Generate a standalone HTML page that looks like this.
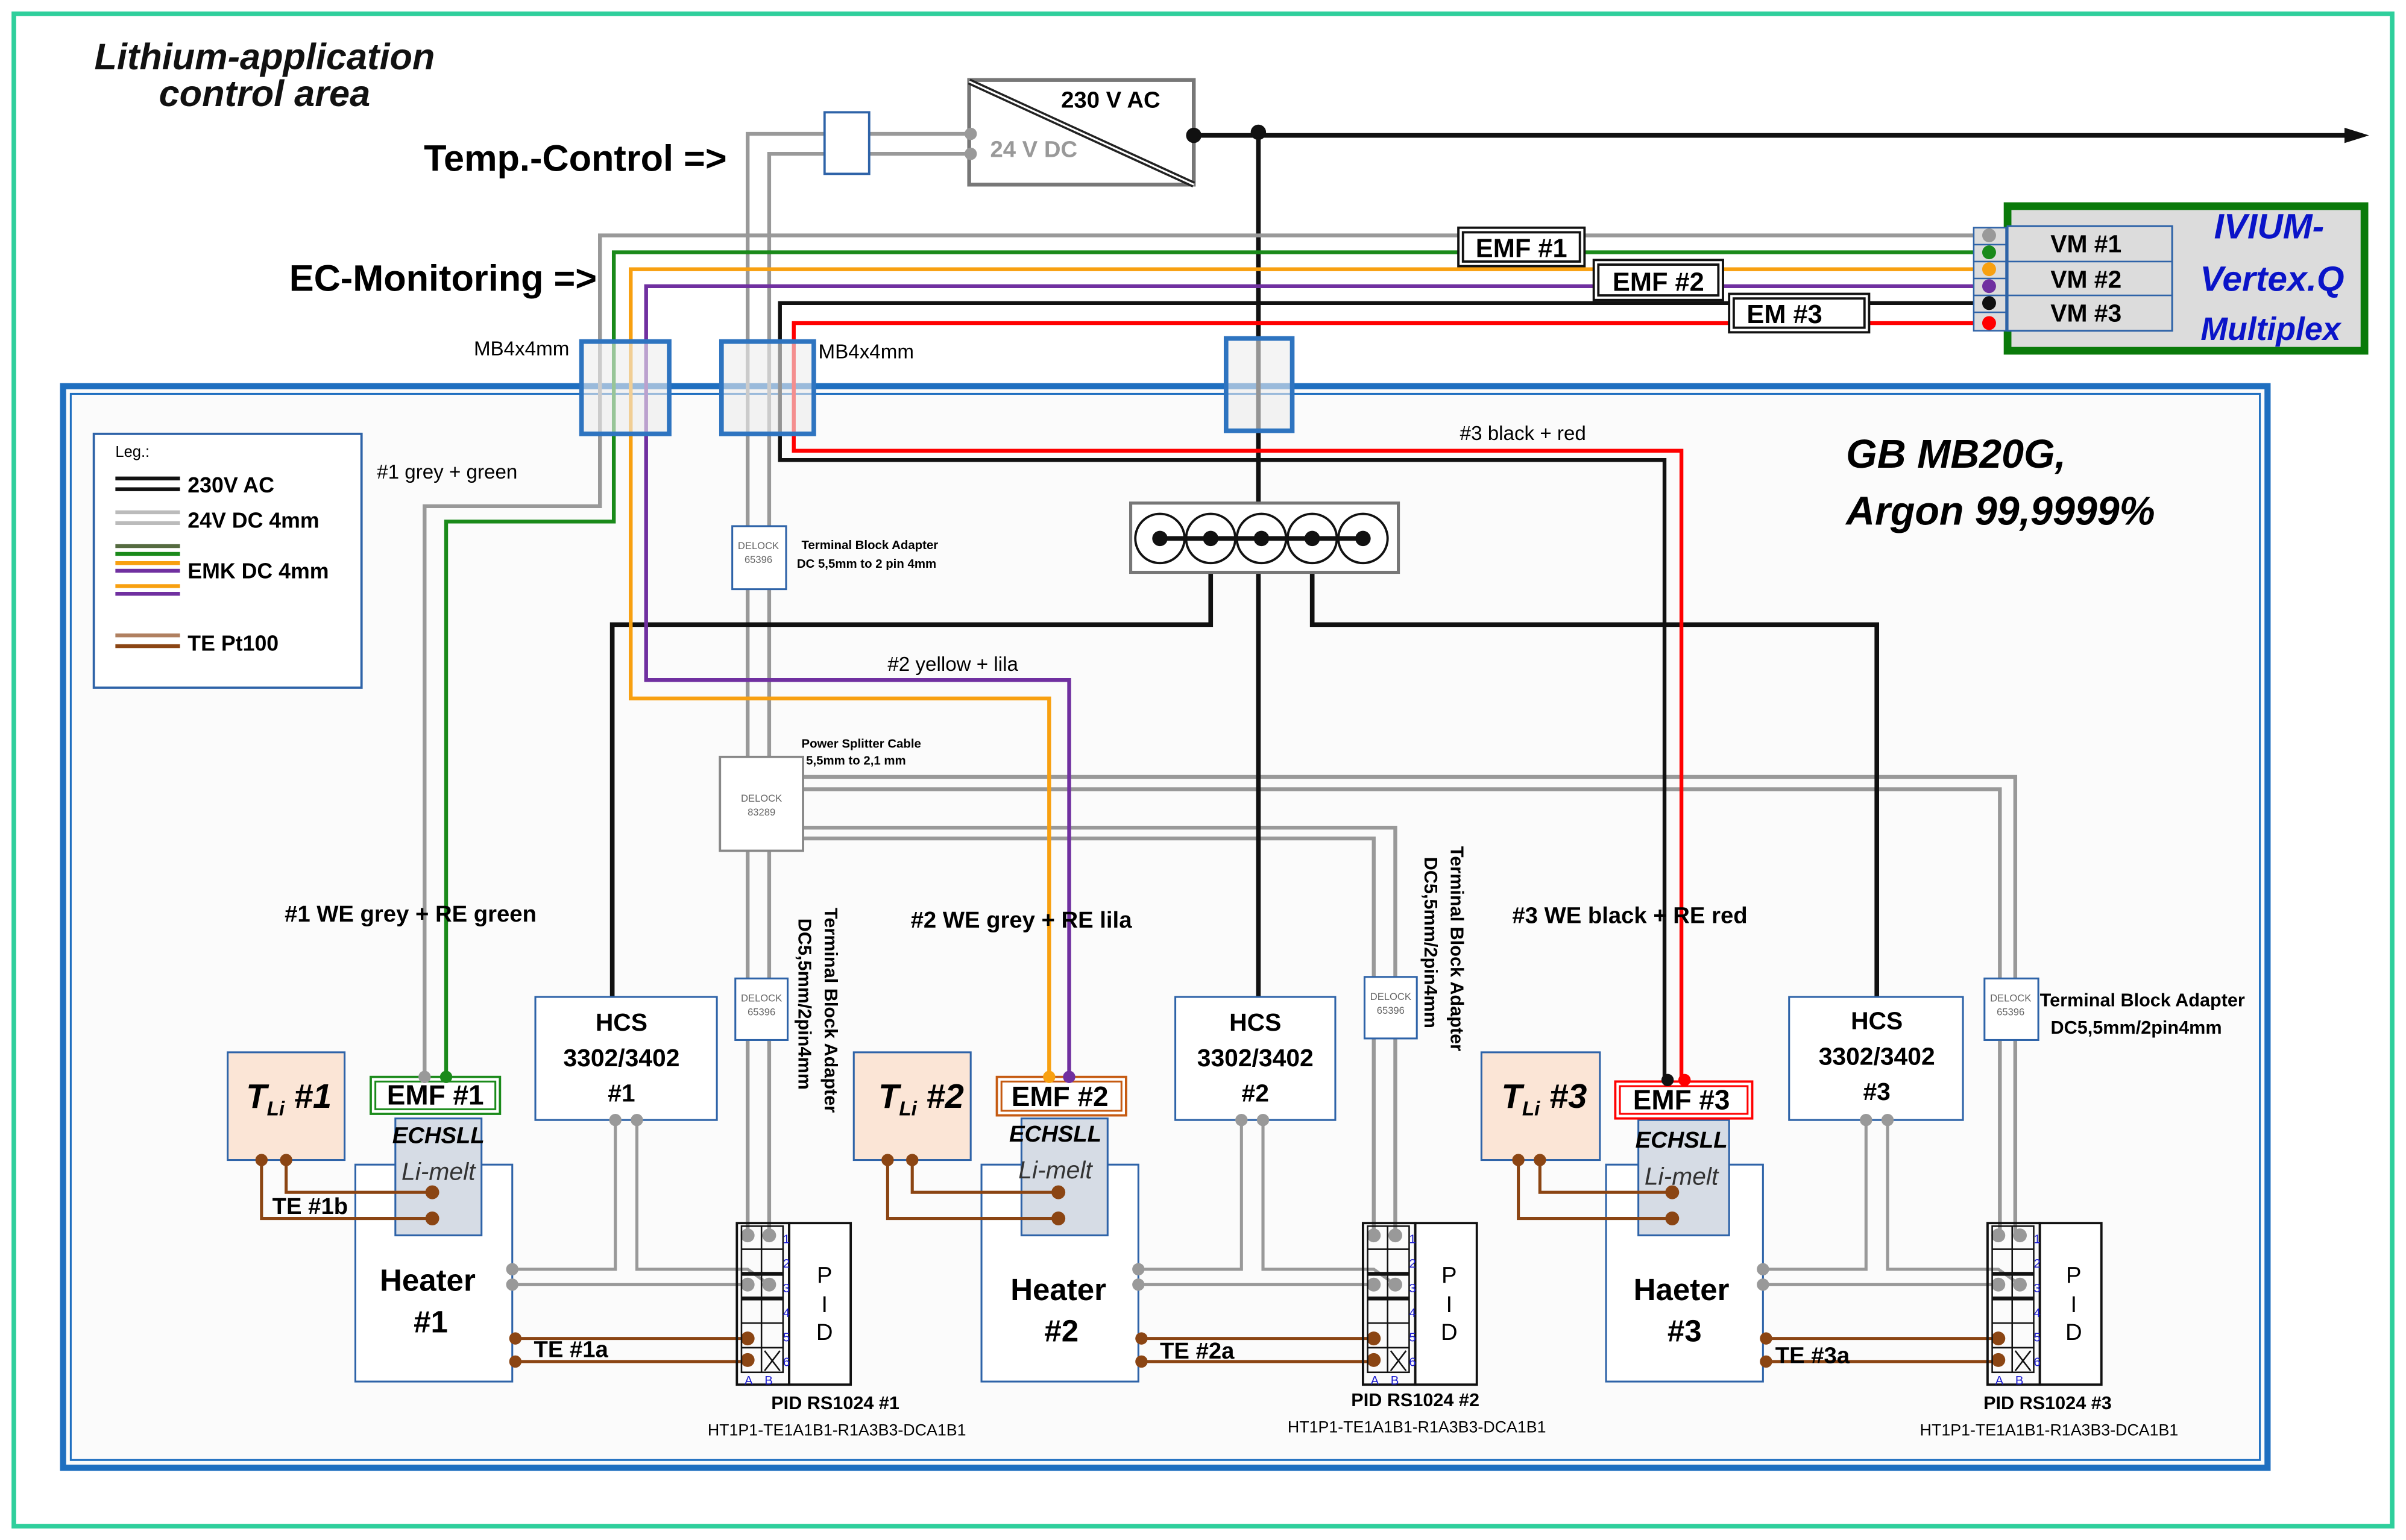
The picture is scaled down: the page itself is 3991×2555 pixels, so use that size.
<!DOCTYPE html>
<html><head><meta charset="utf-8"><style>
html,body{margin:0;padding:0;background:#fff}
svg{display:block}
text{font-family:"Liberation Sans",sans-serif}
</style></head><body>
<svg width="3991" height="2555" viewBox="0 0 1564 1001" preserveAspectRatio="none" xmlns="http://www.w3.org/2000/svg">
<rect x="0" y="0" width="1564" height="1001" fill="#fff"/>
<rect x="9" y="9" width="1546" height="983" fill="#fff" stroke="#2fcf9c" stroke-width="3"/>
<!-- glovebox -->
<rect x="41" y="251" width="1433" height="703" fill="#fbfbfb" stroke="#1f6fc0" stroke-width="4"/>
<rect x="46" y="256" width="1423" height="693" fill="none" stroke="#1f6fc0" stroke-width="1.2"/>

<!-- titles -->
<g font-weight="bold" font-style="italic" font-size="24" fill="#111" text-anchor="middle">
<text x="172" y="45">Lithium-application</text>
<text x="172" y="69">control area</text>
</g>
<text x="374" y="111" font-size="24" font-weight="bold" text-anchor="middle">Temp.-Control =&gt;</text>
<text x="288" y="189" font-size="24" font-weight="bold" text-anchor="middle">EC-Monitoring =&gt;</text>

<!-- power supply -->
<rect x="630" y="52" width="146" height="68" fill="#fff" stroke="#777" stroke-width="2.5"/>
<line x1="630" y1="53" x2="776" y2="120" stroke="#222" stroke-width="4"/>
<line x1="630" y1="53" x2="776" y2="120" stroke="#fff" stroke-width="1.2"/>
<text x="722" y="70" font-size="15" font-weight="bold" text-anchor="middle">230 V AC</text>
<text x="672" y="102" font-size="15" font-weight="bold" fill="#999" text-anchor="middle">24 V DC</text>

<!-- 24V grey wires -->
<g fill="none" stroke="#999" stroke-width="2.5">
<polyline points="631,87 486,87 486,803"/>
<polyline points="631,100 500,100 500,803"/>
<polyline points="522,505 1310,505 1310,803"/>
<polyline points="522,513 1300,513 1300,803"/>
<polyline points="522,538 907,538 907,803"/>
<polyline points="522,545 893,545 893,803"/>
</g>
<rect x="536" y="73" width="29" height="40" fill="#fff" stroke="#2e63a8" stroke-width="1.5"/>
<circle cx="631" cy="87" r="4" fill="#999"/><circle cx="631" cy="100" r="4" fill="#999"/>

<!-- 230V black -->
<g fill="none" stroke="#111" stroke-width="3">
<line x1="776" y1="88" x2="1530" y2="88"/>
<line x1="818" y1="86" x2="818" y2="648"/>
<polyline points="787,350 787,406 398,406 398,648"/>
<polyline points="853,350 853,406 1220,406 1220,648"/>
</g>
<polygon points="1540,88 1524,83 1524,93" fill="#111"/>
<circle cx="776" cy="88" r="5" fill="#111"/><circle cx="818" cy="86" r="5" fill="#111"/>

<!-- EC wires -->
<g fill="none" stroke-width="2.5">
<polyline stroke="#999" points="1293,153 390,153 390,329 276,329 276,700"/>
<polyline stroke="#1a8a1a" points="1293,164 399,164 399,339 290,339 290,700"/>
<polyline stroke="#f8a010" points="1293,175 410,175 410,454 682,454 682,700"/>
<polyline stroke="#7030a0" points="1293,186 420,186 420,442 695,442 695,700"/>
<polyline stroke="#111" points="1293,197 507,197 507,299 1082,299 1082,700"/>
<polyline stroke="#f00" points="1293,210 516,210 516,293 1093,293 1093,700"/>
</g>

<!-- feedthroughs -->
<g fill="#ececec" fill-opacity="0.6" stroke="#2e74c0" stroke-width="3">
<rect x="378" y="222" width="57" height="60"/>
<rect x="469" y="222" width="60" height="60"/>
<rect x="797" y="220" width="43" height="60"/>
</g>
<text x="308" y="231" font-size="13">MB4x4mm</text>
<text x="532" y="233" font-size="13">MB4x4mm</text>

<!-- EMF labels -->
<g font-size="17" font-weight="bold">
<rect x="948" y="148" width="82" height="25" fill="#fff" stroke="#111" stroke-width="1.5"/><rect x="951" y="151" width="76" height="19" fill="none" stroke="#111" stroke-width="1.5"/>
<text x="989" y="167" text-anchor="middle">EMF #1</text>
<rect x="1036" y="169" width="84" height="26" fill="#fff" stroke="#111" stroke-width="1.5"/><rect x="1039" y="172" width="78" height="20" fill="none" stroke="#111" stroke-width="1.5"/>
<text x="1078" y="189" text-anchor="middle">EMF #2</text>
<rect x="1124" y="191" width="91" height="25" fill="#fff" stroke="#111" stroke-width="1.5"/><rect x="1127" y="194" width="85" height="19" fill="none" stroke="#111" stroke-width="1.5"/>
<text x="1160" y="210" text-anchor="middle">EM #3</text>
</g>

<!-- IVIUM -->
<rect x="1305" y="134" width="232" height="94" fill="#dcdcdc" stroke="#0a7a0a" stroke-width="5"/>
<rect x="1283" y="148" width="21" height="67" fill="#dcdcdc" stroke="#2e63a8" stroke-width="1"/>
<g stroke="#2e63a8" stroke-width="1"><line x1="1283" y1="159" x2="1304" y2="159"/><line x1="1283" y1="170" x2="1304" y2="170"/><line x1="1283" y1="181" x2="1304" y2="181"/><line x1="1283" y1="192" x2="1304" y2="192"/><line x1="1283" y1="203" x2="1304" y2="203"/></g>
<rect x="1305" y="147" width="107" height="68" fill="#dcdcdc" stroke="#2e63a8" stroke-width="1.2"/>
<line x1="1305" y1="170" x2="1412" y2="170" stroke="#2e63a8"/><line x1="1305" y1="192" x2="1412" y2="192" stroke="#2e63a8"/>
<circle cx="1293" cy="153" r="4.5" fill="#999"/><circle cx="1293" cy="164" r="4.5" fill="#1a8a1a"/><circle cx="1293" cy="175" r="4.5" fill="#f8a010"/><circle cx="1293" cy="186" r="4.5" fill="#7030a0"/><circle cx="1293" cy="197" r="4.5" fill="#111"/><circle cx="1293" cy="210" r="4.5" fill="#f00"/>
<g font-size="16" font-weight="bold" text-anchor="middle"><text x="1356" y="164">VM #1</text><text x="1356" y="187">VM #2</text><text x="1356" y="209">VM #3</text></g>
<g font-size="23" font-weight="bold" font-style="italic" fill="#0a14c8" text-anchor="middle">
<text x="1475" y="155">IVIUM-</text><text x="1477" y="189">Vertex.Q</text><text x="1476" y="221" font-size="21">Multiplex</text></g>

<!-- socket strip -->
<rect x="735" y="327" width="174" height="45" fill="#fff" stroke="#777" stroke-width="2"/>
<g fill="#fff" stroke="#111" stroke-width="1.5">
<circle cx="754" cy="350" r="16"/><circle cx="787" cy="350" r="16"/><circle cx="820" cy="350" r="16"/><circle cx="853" cy="350" r="16"/><circle cx="886" cy="350" r="16"/></g>
<line x1="754" y1="350" x2="886" y2="350" stroke="#111" stroke-width="3"/>
<g fill="#111"><circle cx="754" cy="350" r="5"/><circle cx="787" cy="350" r="5"/><circle cx="820" cy="350" r="5"/><circle cx="853" cy="350" r="5"/><circle cx="886" cy="350" r="5"/></g>

<!-- legend -->
<rect x="61" y="282" width="174" height="165" fill="#fff" stroke="#2e63a8" stroke-width="1.5"/>
<text x="75" y="297" font-size="10">Leg.:</text>
<g stroke-width="2.5">
<line x1="75" y1="311" x2="117" y2="311" stroke="#111"/><line x1="75" y1="318" x2="117" y2="318" stroke="#111"/>
<line x1="75" y1="333" x2="117" y2="333" stroke="#bbb"/><line x1="75" y1="340" x2="117" y2="340" stroke="#bbb"/>
<line x1="75" y1="355" x2="117" y2="355" stroke="#556b40"/><line x1="75" y1="360" x2="117" y2="360" stroke="#1a8a1a"/>
<line x1="75" y1="366" x2="117" y2="366" stroke="#f8a010"/><line x1="75" y1="371" x2="117" y2="371" stroke="#7030a0"/>
<line x1="75" y1="381" x2="117" y2="381" stroke="#f8a010"/><line x1="75" y1="386" x2="117" y2="386" stroke="#7030a0"/>
<line x1="75" y1="413" x2="117" y2="413" stroke="#b08060"/><line x1="75" y1="420" x2="117" y2="420" stroke="#8b4513"/>
</g>
<g font-size="14" font-weight="bold"><text x="122" y="320">230V AC</text><text x="122" y="343">24V DC 4mm</text><text x="122" y="376">EMK DC 4mm</text><text x="122" y="423">TE Pt100</text></g>

<!-- misc labels -->
<g font-size="13"><text x="245" y="311">#1 grey + green</text><text x="949" y="286">#3 black + red</text><text x="577" y="436">#2 yellow + lila</text></g>
<g font-size="26" font-weight="bold" font-style="italic"><text x="1200" y="304">GB MB20G,</text><text x="1200" y="341">Argon 99,9999%</text></g>
<g font-size="15" font-weight="bold"><text x="185" y="599">#1 WE grey + RE green</text><text x="592" y="603">#2 WE grey + RE lila</text><text x="983" y="600">#3 WE black + RE red</text></g>

<!-- adapters -->
<g fill="#fff" stroke="#2e63a8" stroke-width="1.2">
<rect x="476" y="342" width="35" height="41"/>
<rect x="478" y="636" width="34" height="40"/>
<rect x="887" y="635" width="34" height="40"/>
<rect x="1290" y="636" width="35" height="40"/>
</g>
<rect x="468" y="492" width="54" height="61" fill="#fff" stroke="#888" stroke-width="1.5"/>
<g font-size="6.5" fill="#666" text-anchor="middle">
<text x="493" y="357">DELOCK</text><text x="493" y="366">65396</text>
<text x="495" y="651">DELOCK</text><text x="495" y="660">65396</text>
<text x="904" y="650">DELOCK</text><text x="904" y="659">65396</text>
<text x="1307" y="651">DELOCK</text><text x="1307" y="660">65396</text>
<text x="495" y="521">DELOCK</text><text x="495" y="530">83289</text>
</g>
<g font-size="8" font-weight="bold"><text x="521" y="357">Terminal Block Adapter</text><text x="518" y="369">DC 5,5mm to 2 pin 4mm</text>
<text x="521" y="486">Power Splitter Cable</text><text x="524" y="497">5,5mm to 2,1 mm</text></g>
<g font-size="12" font-weight="bold">
<text transform="translate(536,590) rotate(90)">Terminal Block Adapter</text>
<text transform="translate(519,597) rotate(90)">DC5,5mm/2pin4mm</text>
<text transform="translate(943,550) rotate(90)">Terminal Block Adapter</text>
<text transform="translate(926,557) rotate(90)">DC5,5mm/2pin4mm</text>
<text x="1326" y="654">Terminal Block Adapter</text>
<text x="1333" y="672">DC5,5mm/2pin4mm</text>
</g>

<!-- UNIT 1 -->
<g id="u1">
<rect x="148" y="684" width="76" height="70" fill="#fbe5d6" stroke="#2e63a8" stroke-width="1.2"/>
<rect x="231" y="757" width="102" height="141" fill="#fff" stroke="#2e63a8" stroke-width="1.2"/>
<rect x="257" y="727" width="56" height="76" fill="#d6dce5" stroke="#2e63a8" stroke-width="1.2"/>
<rect x="348" y="648" width="118" height="80" fill="#fff" stroke="#2e63a8" stroke-width="1.2"/>
<rect x="241" y="700" width="84" height="24" fill="#fff" stroke="#1a8a1a" stroke-width="1.5"/><rect x="244" y="703" width="78" height="18" fill="none" stroke="#1a8a1a" stroke-width="1.2"/>
<g fill="none" stroke-width="2"><polyline stroke="#8b4513" points="186,754 186,775 281,775"/><polyline stroke="#8b4513" points="170,754 170,792 281,792"/>
<polyline stroke="#999" points="400,728 400,825 333,825"/><polyline stroke="#999" points="414,728 414,825 486,825 500,835"/><line stroke="#999" x1="333" y1="835" x2="486" y2="835"/>
<line stroke="#8b4513" x1="335" y1="870" x2="486" y2="870"/><line stroke="#8b4513" x1="335" y1="885" x2="486" y2="885"/></g>
<g fill="#8b4513"><circle cx="170" cy="754" r="4"/><circle cx="186" cy="754" r="4"/><circle cx="281" cy="775" r="4.5"/><circle cx="281" cy="792" r="4.5"/><circle cx="335" cy="870" r="4"/><circle cx="335" cy="885" r="4"/><circle cx="486" cy="870" r="4.5"/><circle cx="486" cy="884" r="4.5"/></g>
<g fill="#999"><circle cx="400" cy="728" r="4"/><circle cx="414" cy="728" r="4"/><circle cx="333" cy="825" r="4"/><circle cx="333" cy="835" r="4"/><circle cx="486" cy="803" r="4.5"/><circle cx="500" cy="803" r="4.5"/><circle cx="486" cy="835" r="4.5"/><circle cx="500" cy="835" r="4.5"/></g>
<!-- PID -->
<rect x="479" y="795" width="34" height="105" fill="none" stroke="#111" stroke-width="1.5"/>
<rect x="513" y="795" width="40" height="105" fill="#fff" stroke="#111" stroke-width="1.5"/>
<g fill="none" stroke="#111" stroke-width="1"><rect x="482" y="797" width="27" height="95"/><line x1="495" y1="797" x2="495" y2="892"/>
<line x1="482" y1="812" x2="509" y2="812"/><line x1="482" y1="828" x2="509" y2="828" stroke-width="2.5"/><line x1="482" y1="844" x2="509" y2="844" stroke-width="2.5"/><line x1="482" y1="860" x2="509" y2="860"/><line x1="482" y1="876" x2="509" y2="876"/>
<line x1="497" y1="878" x2="507" y2="891"/><line x1="507" y1="878" x2="497" y2="891"/></g>
<g fill="#1a1ad0" font-size="8"><text x="509" y="808">1</text><text x="509" y="824">2</text><text x="509" y="840">3</text><text x="509" y="856">4</text><text x="509" y="872">5</text><text x="509" y="888">6</text><text x="484" y="900">A</text><text x="497" y="900">B</text></g>
</g>
<g transform="translate(407,0)">
<rect x="148" y="684" width="76" height="70" fill="#fbe5d6" stroke="#2e63a8" stroke-width="1.2"/>
<rect x="231" y="757" width="102" height="141" fill="#fff" stroke="#2e63a8" stroke-width="1.2"/>
<rect x="257" y="727" width="56" height="76" fill="#d6dce5" stroke="#2e63a8" stroke-width="1.2"/>
<rect x="357" y="648" width="104" height="80" fill="#fff" stroke="#2e63a8" stroke-width="1.2"/>
<rect x="241" y="700" width="84" height="25" fill="#fff" stroke="#c55a11" stroke-width="1.5"/><rect x="244" y="703" width="78" height="19" fill="none" stroke="#c55a11" stroke-width="1.2"/>
<g fill="none" stroke-width="2"><polyline stroke="#8b4513" points="186,754 186,775 281,775"/><polyline stroke="#8b4513" points="170,754 170,792 281,792"/>
<polyline stroke="#999" points="400,728 400,825 333,825"/><polyline stroke="#999" points="414,728 414,825 486,825 500,835"/><line stroke="#999" x1="333" y1="835" x2="486" y2="835"/>
<line stroke="#8b4513" x1="335" y1="870" x2="486" y2="870"/><line stroke="#8b4513" x1="335" y1="885" x2="486" y2="885"/></g>
<g fill="#8b4513"><circle cx="170" cy="754" r="4"/><circle cx="186" cy="754" r="4"/><circle cx="281" cy="775" r="4.5"/><circle cx="281" cy="792" r="4.5"/><circle cx="335" cy="870" r="4"/><circle cx="335" cy="885" r="4"/><circle cx="486" cy="870" r="4.5"/><circle cx="486" cy="884" r="4.5"/></g>
<g fill="#999"><circle cx="400" cy="728" r="4"/><circle cx="414" cy="728" r="4"/><circle cx="333" cy="825" r="4"/><circle cx="333" cy="835" r="4"/><circle cx="486" cy="803" r="4.5"/><circle cx="500" cy="803" r="4.5"/><circle cx="486" cy="835" r="4.5"/><circle cx="500" cy="835" r="4.5"/></g>
<rect x="479" y="795" width="34" height="105" fill="none" stroke="#111" stroke-width="1.5"/>
<rect x="513" y="795" width="40" height="105" fill="#fff" stroke="#111" stroke-width="1.5"/>
<g fill="none" stroke="#111" stroke-width="1"><rect x="482" y="797" width="27" height="95"/><line x1="495" y1="797" x2="495" y2="892"/>
<line x1="482" y1="812" x2="509" y2="812"/><line x1="482" y1="828" x2="509" y2="828" stroke-width="2.5"/><line x1="482" y1="844" x2="509" y2="844" stroke-width="2.5"/><line x1="482" y1="860" x2="509" y2="860"/><line x1="482" y1="876" x2="509" y2="876"/>
<line x1="497" y1="878" x2="507" y2="891"/><line x1="507" y1="878" x2="497" y2="891"/></g>
<g fill="#1a1ad0" font-size="8"><text x="509" y="808">1</text><text x="509" y="824">2</text><text x="509" y="840">3</text><text x="509" y="856">4</text><text x="509" y="872">5</text><text x="509" y="888">6</text><text x="484" y="900">A</text><text x="497" y="900">B</text></g>
</g>
<g transform="translate(813,0)">
<rect x="150" y="684" width="77" height="70" fill="#fbe5d6" stroke="#2e63a8" stroke-width="1.2"/>
<rect x="231" y="757" width="102" height="141" fill="#fff" stroke="#2e63a8" stroke-width="1.2"/>
<rect x="252" y="728" width="59" height="75" fill="#d6dce5" stroke="#2e63a8" stroke-width="1.2"/>
<rect x="350" y="648" width="113" height="80" fill="#fff" stroke="#2e63a8" stroke-width="1.2"/>
<rect x="237" y="703" width="89" height="24" fill="#fff" stroke="#f00" stroke-width="1.5"/><rect x="240" y="706" width="83" height="18" fill="none" stroke="#f00" stroke-width="1.2"/>
<g fill="none" stroke-width="2"><polyline stroke="#8b4513" points="188,754 188,775 274,775"/><polyline stroke="#8b4513" points="174,754 174,792 274,792"/>
<polyline stroke="#999" points="400,728 400,825 333,825"/><polyline stroke="#999" points="414,728 414,825 486,825 500,835"/><line stroke="#999" x1="333" y1="835" x2="486" y2="835"/>
<line stroke="#8b4513" x1="335" y1="870" x2="486" y2="870"/><line stroke="#8b4513" x1="335" y1="885" x2="486" y2="885"/></g>
<g fill="#8b4513"><circle cx="174" cy="754" r="4"/><circle cx="188" cy="754" r="4"/><circle cx="274" cy="775" r="4.5"/><circle cx="274" cy="792" r="4.5"/><circle cx="335" cy="870" r="4"/><circle cx="335" cy="885" r="4"/><circle cx="486" cy="870" r="4.5"/><circle cx="486" cy="884" r="4.5"/></g>
<g fill="#999"><circle cx="400" cy="728" r="4"/><circle cx="414" cy="728" r="4"/><circle cx="333" cy="825" r="4"/><circle cx="333" cy="835" r="4"/><circle cx="486" cy="803" r="4.5"/><circle cx="500" cy="803" r="4.5"/><circle cx="486" cy="835" r="4.5"/><circle cx="500" cy="835" r="4.5"/></g>
<rect x="479" y="795" width="34" height="105" fill="none" stroke="#111" stroke-width="1.5"/>
<rect x="513" y="795" width="40" height="105" fill="#fff" stroke="#111" stroke-width="1.5"/>
<g fill="none" stroke="#111" stroke-width="1"><rect x="482" y="797" width="27" height="95"/><line x1="495" y1="797" x2="495" y2="892"/>
<line x1="482" y1="812" x2="509" y2="812"/><line x1="482" y1="828" x2="509" y2="828" stroke-width="2.5"/><line x1="482" y1="844" x2="509" y2="844" stroke-width="2.5"/><line x1="482" y1="860" x2="509" y2="860"/><line x1="482" y1="876" x2="509" y2="876"/>
<line x1="497" y1="878" x2="507" y2="891"/><line x1="507" y1="878" x2="497" y2="891"/></g>
<g fill="#1a1ad0" font-size="8"><text x="509" y="808">1</text><text x="509" y="824">2</text><text x="509" y="840">3</text><text x="509" y="856">4</text><text x="509" y="872">5</text><text x="509" y="888">6</text><text x="484" y="900">A</text><text x="497" y="900">B</text></g>
</g>

<!-- EMF top dots -->
<circle cx="276" cy="700" r="4" fill="#999"/><circle cx="290" cy="700" r="4" fill="#1a8a1a"/>
<circle cx="682" cy="700" r="4" fill="#f8a010"/><circle cx="695" cy="700" r="4" fill="#7030a0"/>
<circle cx="1084" cy="702" r="4" fill="#111"/><circle cx="1095" cy="702" r="4" fill="#f00"/>

<!-- unit texts -->
<g font-weight="bold" font-style="italic" font-size="22">
<text x="160" y="720">T<tspan font-size="13" dy="5">Li</tspan><tspan dy="-5"> #1</tspan></text>
<text x="571" y="720">T<tspan font-size="13" dy="5">Li</tspan><tspan dy="-5"> #2</tspan></text>
<text x="976" y="720">T<tspan font-size="13" dy="5">Li</tspan><tspan dy="-5"> #3</tspan></text>
</g>
<g font-weight="bold" font-size="18" text-anchor="middle">
<text x="283" y="718">EMF #1</text><text x="689" y="719">EMF #2</text><text x="1093" y="721">EMF #3</text>
</g>
<g font-weight="bold" font-style="italic" font-size="15" text-anchor="middle">
<text x="285" y="743">ECHSLL</text><text x="686" y="742">ECHSLL</text><text x="1093" y="746">ECHSLL</text>
</g>
<g font-style="italic" font-size="16" fill="#333" text-anchor="middle">
<text x="285" y="767">Li-melt</text><text x="686" y="766">Li-melt</text><text x="1093" y="770">Li-melt</text>
</g>
<g font-weight="bold" font-size="20" text-anchor="middle">
<text x="278" y="839">Heater</text><text x="280" y="866">#1</text>
<text x="688" y="845">Heater</text><text x="690" y="872">#2</text>
<text x="1093" y="845">Haeter</text><text x="1095" y="872">#3</text>
</g>
<g font-weight="bold" font-size="16" text-anchor="middle">
<text x="404" y="670">HCS</text><text x="404" y="693">3302/3402</text><text x="404" y="716">#1</text>
<text x="816" y="670">HCS</text><text x="816" y="693">3302/3402</text><text x="816" y="716">#2</text>
<text x="1220" y="669">HCS</text><text x="1220" y="692">3302/3402</text><text x="1220" y="715">#3</text>
</g>
<g font-weight="bold" font-size="15">
<text x="177" y="789">TE #1b</text>
<text x="347" y="882">TE #1a</text><text x="754" y="883">TE #2a</text><text x="1154" y="886">TE #3a</text>
</g>
<g font-size="15" text-anchor="middle">
<text x="536" y="834">P</text><text x="536" y="853">I</text><text x="536" y="871">D</text>
<text x="942" y="834">P</text><text x="942" y="853">I</text><text x="942" y="871">D</text>
<text x="1348" y="834">P</text><text x="1348" y="853">I</text><text x="1348" y="871">D</text>
</g>
<g font-size="12" font-weight="bold" text-anchor="middle">
<text x="543" y="916">PID RS1024 #1</text><text x="920" y="914">PID RS1024 #2</text><text x="1331" y="916">PID RS1024 #3</text>
</g>
<g font-size="10.5" text-anchor="middle">
<text x="544" y="933">HT1P1-TE1A1B1-R1A3B3-DCA1B1</text><text x="921" y="931">HT1P1-TE1A1B1-R1A3B3-DCA1B1</text><text x="1332" y="933">HT1P1-TE1A1B1-R1A3B3-DCA1B1</text>
</g>
</svg>
</body></html>
